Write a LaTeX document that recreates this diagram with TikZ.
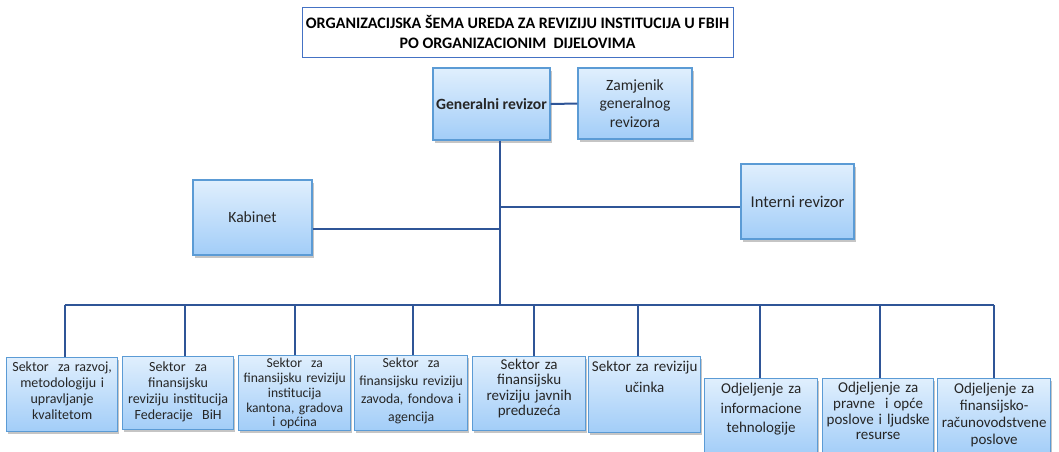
\documentclass[tikz,border=0pt]{standalone}
\usepackage{fontspec}
\setmainfont{Carlito}
\usetikzlibrary{shadows}
\definecolor{boxtop}{HTML}{E0EFFD}
\definecolor{boxbot}{HTML}{A2CDF8}
\definecolor{boxline}{HTML}{5B9BD5}
\definecolor{linkline}{HTML}{2F5597}
\definecolor{titleline}{HTML}{4472C4}
\begin{document}
\begin{tikzpicture}[x=1pt,y=-1pt,
	unit/.style={draw=boxline, line width=1.3pt, top color=boxtop, bottom color=boxbot,
		drop shadow={shadow xshift=1.5pt, shadow yshift=-2.5pt, fill=black!45, opacity=.5},
		align=center, inner sep=0pt, text=black!85, font=\fontsize{14}{15.5}\selectfont},
	link/.style={draw=linkline, line width=2pt}]
	\useasboundingbox (0,0) rectangle (1059,451);

	\node[draw=titleline, line width=1pt, fill=white, minimum width=431pt, minimum height=50pt, align=center,
		font=\fontsize{16}{20}\selectfont\bfseries] (title) at (517.5,32)
		{ORGANIZACIJSKA ŠEMA UREDA ZA REVIZIJU INSTITUCIJA U FBIH\\PO ORGANIZACIONIM\ \ DIJELOVIMA};

	\node[unit, minimum width=117pt, minimum height=72pt, font=\fontsize{15.6}{18}\selectfont\bfseries] (gen) at (491.5,104) {Generalni revizor};
	\node[unit, minimum width=114pt, minimum height=71pt, font=\fontsize{15.6}{18.5}\selectfont] (zam) at (635,103.5) {Zamjenik\\generalnog\\revizora};
	\node[unit, minimum width=119pt, minimum height=75pt, font=\fontsize{15.6}{18}\selectfont] (kab) at (252.5,217.5) {Kabinet};
	\node[unit, minimum width=113pt, minimum height=75pt, font=\fontsize{16.5}{18}\selectfont] (int) at (797.5,201.5) {Interni revizor};

	% sektori
	\node[unit, anchor=north west, text width=111pt, text height=14pt, text depth=60pt, font=\fontsize{14}{16}\selectfont] (s1) at (6,357) {Sektor\ \ za razvoj,\\metodologiju i\\upravljanje\\kvalitetom};
	\node[unit, anchor=north west, text width=111pt, text height=15pt, text depth=58pt, font=\fontsize{14}{16}\selectfont] (s2) at (122,356) {Sektor\ \ za\\finansijsku\\reviziju institucija\\Federacije\ \ BiH};
	\node[unit, anchor=north west, text width=112pt, text height=12pt, text depth=63pt, font=\fontsize{13.6}{14.8}\selectfont] (s3) at (238,355) {Sektor\ \ za\\finansijsku reviziju\\institucija\\kantona, gradova\\i općina};
	\node[unit, anchor=north west, text width=113pt, text height=12pt, text depth=63pt, font=\fontsize{13.8}{18}\selectfont] (s4) at (354,355) {Sektor\ \ za\\finansijsku reviziju\\zavoda, fondova i\\agencija};
	\node[unit, anchor=north west, text width=113pt, text height=13pt, text depth=61pt, font=\fontsize{15}{15.3}\selectfont] (s5) at (472,356) {Sektor za\\finansijsku\\reviziju javnih\\preduzeća};
	\node[unit, anchor=north west, text width=112pt, text height=15pt, text depth=61pt, font=\fontsize{15}{21}\selectfont] (s6) at (588,356) {Sektor za reviziju\\učinka};

	% odjeljenja
	\node[unit, anchor=north west, text width=113pt, text height=15pt, text depth=62pt, font=\fontsize{15}{19.5}\selectfont] (s7) at (704,378) {Odjeljenje za\\informacione\\tehnologije};
	\node[unit, anchor=north west, text width=111pt, text height=14pt, text depth=63pt, font=\fontsize{15}{15.7}\selectfont] (s8) at (822,378) {Odjeljenje za\\pravne\ \ i opće\\poslove i ljudske\\resurse};
	\node[unit, anchor=north west, text width=113pt, text height=15pt, text depth=62pt, font=\fontsize{15}{17}\selectfont] (s9) at (937,378) {Odjeljenje za\\finansijsko-\\računovodstvene\\poslove};

	\coordinate (bus) at (500,305);
	\coordinate (kj) at (500,229);
	\coordinate (ij) at (500,207);

	\draw[link] (gen.east) -- (zam.west);
	\draw[link] (gen.south -| bus) -- (bus);
	\draw[link] (kab.east |- kj) -- (kj);
	\draw[link] (ij) -- (ij -| int.west);
	\draw[link] ([xshift=2.5pt]s1.north |- bus) -- ([xshift=-.5pt]s9.north |- bus);
	\foreach \n/\d in {s1/2.5,s2/6.5,s3/0,s4/1.5,s5/4.5,s6/-7,s7/-1.5,s8/1.5,s9/-.5}
		\draw[link] ([xshift=\d pt]\n.north |- bus) -- ([xshift=\d pt]\n.north);

\end{tikzpicture}
\end{document}
